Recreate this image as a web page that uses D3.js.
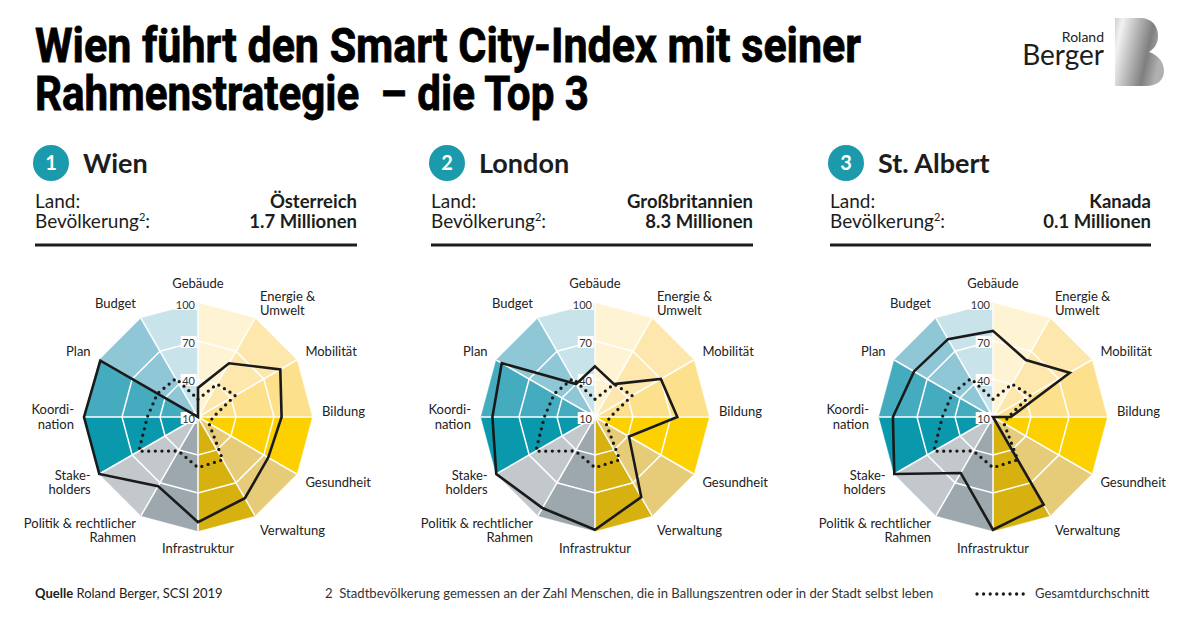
<!DOCTYPE html>
<html><head><meta charset="utf-8">
<script src="https://cdn.jsdelivr.net/npm/d3@7"></script>
<style>
body{margin:0;background:#fff;}
svg{display:block;font-family:Lato,"Open Sans",sans-serif;}
</style></head><body>
<svg id="c" width="1200" height="624"></svg>
<script>
// ---------- data ----------
const titleLines = ["Wien führt den Smart City-Index mit seiner", "Rahmenstrategie  – die Top 3"];
const categories = ["Gebäude","Energie & Umwelt","Mobilität","Bildung","Gesundheit","Verwaltung","Infrastruktur","Politik & rechtlicher Rahmen","Stakeholders","Koordination","Plan","Budget"];
const labelLines = [["Gebäude"],["Energie &","Umwelt"],["Mobilität"],["Bildung"],["Gesundheit"],["Verwaltung"],["Infrastruktur"],["Politik & rechtlicher","Rahmen"],["Stake-","holders"],["Koordi-","nation"],["Plan"],["Budget"]];
const ringTicks = [10, 40, 70, 100];
const ranks = ["1","2","3"];
const cities = ["Wien","London","St. Albert"];
const countries = ["Österreich","Großbritannien","Kanada"];
const populations = ["1.7 Millionen","8.3 Millionen","0.1 Millionen"];
const wienValues     = [33, 59, 85, 76, 74, 84, 93, 73, 100, 100, 99, 10];
const londonValues   = [50, 40, 70, 75, 41, 83, 99, 93, 100, 91, 95, 40];
const stAlbertValues = [78, 62, 80, 24, 10, 90, 99, 61, 100, 89, 82, 81];
const averageValues  = [24, 40, 44, 22, 20, 49, 50, 41, 64, 50, 47, 45];
const sectorColors = ["#fef3d3","#fde7ad","#fde08c","#fdd000","#e6cc78","#d7b10f","#9ca7ae","#c3c8cd","#0a98ad","#45acc0","#8fc7d6","#c8e3ea"];

// ---------- layout ----------
const svg = d3.select("#c");
const ink = "#1d1d1b";
const colX = [35, 431, 830];
const colR = [357, 753, 1151];
const centersX = [198, 595, 993];
const cy = 417, R = 114;
const seriesList = [wienValues, londonValues, stAlbertValues];

// title (one text element, two lines)
const tf = "Roboto,'Liberation Sans',sans-serif";
const title = svg.append("text").attr("font-family",tf).attr("font-weight",700)
  .attr("font-size",48).attr("fill","#000").attr("stroke","#000").attr("stroke-width",0.8)
  .style("white-space","pre");
title.append("tspan").attr("x",35).attr("y",62).attr("textLength",826).attr("lengthAdjust","spacingAndGlyphs").text(titleLines[0]);
title.append("tspan").attr("x",35).attr("y",110).attr("textLength",554).attr("lengthAdjust","spacingAndGlyphs").text(titleLines[1]);

// logo
const defs = svg.append("defs");
const lg = defs.append("linearGradient").attr("id","silver").attr("x1",0).attr("x2",1).attr("y1",0).attr("y2",0.3);
[[0,"#cfcfcf"],[0.15,"#f2f2f2"],[0.45,"#b8b8b8"],[0.75,"#7f7f7f"],[1,"#b0b0b0"]].forEach(s=>lg.append("stop").attr("offset",s[0]).attr("stop-color",s[1]));
svg.append("path").attr("fill","url(#silver)")
  .attr("d","M1115,18 L1140,18 C1152,18 1158,26 1158,36 C1158,44 1154,49 1149,52 C1158,55 1164,62 1164,71 C1164,80 1157,86 1146,86 L1115,86 Z");
const logo = svg.append("text").attr("text-anchor","end").attr("fill",ink);
logo.append("tspan").attr("x",1104).attr("y",42).attr("font-size",14).text("Roland");
logo.append("tspan").attr("x",1104).attr("y",65).attr("font-size",28).text("Berger");

// headers
cities.forEach((c,i)=>{
  const x0 = colX[i];
  svg.append("circle").attr("cx",x0+16).attr("cy",163).attr("r",18).attr("fill","#1a9aab");
  svg.append("text").attr("x",x0+16).attr("y",170).attr("text-anchor","middle").attr("fill","#fff")
    .attr("font-size",20).attr("font-weight",700).text(ranks[i]);
  svg.append("text").attr("x",x0+48).attr("y",173).attr("font-size",27).attr("font-weight",700).attr("fill",ink).text(c);
  const lt = svg.append("text").attr("font-size",19).attr("fill",ink);
  lt.append("tspan").attr("x",x0).attr("y",208).text("Land:");
  lt.append("tspan").attr("x",x0).attr("y",228).text("Bevölkerung");
  lt.append("tspan").attr("dy",-7).attr("font-size",11).text("2");
  lt.append("tspan").attr("dy",7).text(":");
  const rt = svg.append("text").attr("text-anchor","end").attr("font-size",18.5).attr("font-weight",700).attr("fill",ink);
  rt.append("tspan").attr("x",colR[i]).attr("y",208).text(countries[i]);
  rt.append("tspan").attr("x",colR[i]).attr("y",228).text(populations[i]);
  svg.append("line").attr("x1",x0).attr("x2",colR[i]).attr("y1",245).attr("y2",245).attr("stroke",ink).attr("stroke-width",3);
});

// radars
const n = categories.length;
const angle = i => i * 2 * Math.PI / n;
const rScale = d3.scaleLinear().domain([10,100]).range([0,R]);
const radial = d3.lineRadial().angle((d,i)=>angle(i)).radius(d=>rScale(d)).curve(d3.curveLinearClosed);

seriesList.forEach((vals,ci)=>{
  const g = svg.append("g").attr("transform",`translate(${centersX[ci]},${cy})`);
  categories.forEach((c,i)=>{
    const p1 = d3.pointRadial(angle(i), rScale(100));
    const p2 = d3.pointRadial(angle(i+1), rScale(100));
    g.append("path").attr("d",`M0,0L${p1[0]},${p1[1]}L${p2[0]},${p2[1]}Z`).attr("fill",sectorColors[i]).attr("stroke",sectorColors[i]).attr("stroke-width",0.5);
  });
  ringTicks.filter(t=>t>10 && t<100).forEach(t=>{
    g.append("path").attr("d",radial(categories.map(()=>t))).attr("fill","none").attr("stroke","#fff").attr("stroke-width",1.5);
  });
  categories.forEach((c,i)=>{
    const p = d3.pointRadial(angle(i), rScale(100));
    g.append("line").attr("x1",0).attr("y1",0).attr("x2",p[0]).attr("y2",p[1]).attr("stroke","#fff").attr("stroke-width",1.5);
  });
  ringTicks.forEach(t=>{
    const y = -rScale(t) + 1;
    const tx = g.append("text").attr("x",-3).attr("y",y).attr("text-anchor","end").attr("dominant-baseline","central")
      .attr("font-size",11).attr("fill","#333").text(t);
    const bb = tx.node().getBBox();
    g.insert("rect", () => tx.node()).attr("x",bb.x-1.5).attr("y",bb.y+0.5).attr("width",bb.width+2.5).attr("height",bb.height-1).attr("fill","#fff");
  });
  g.append("path").attr("d",radial(averageValues)).attr("fill","none").attr("stroke","#1a1a1a")
    .attr("stroke-width",3.3).attr("stroke-linecap","round").attr("stroke-dasharray","0 6.6");
  g.append("path").attr("d",radial(vals)).attr("fill","none").attr("stroke","#1a1a1a")
    .attr("stroke-width",2.6).attr("stroke-linejoin","miter");
  labelLines.forEach((lines,i)=>{
    const a = angle(i);
    const deg = i*360/n;
    const x = 124*Math.sin(a);
    const y = -131*Math.cos(a) - (deg===90 ? 6 : 0) - (deg===0 ? 3 : 0);
    const anchor = (deg===0||deg===180) ? "middle" : (deg<180 ? "start" : "end");
    const lh = 14.5;
    const t = g.append("text").attr("text-anchor",anchor).attr("font-size",13).attr("fill","#222");
    lines.forEach((l,k)=>{
      t.append("tspan").attr("x",x).attr("y", y + (k - (lines.length-1)/2)*lh + 4.5).text(l);
    });
  });
});

// footer
const f1 = svg.append("text").attr("x",35).attr("y",598).attr("font-size",13).attr("fill",ink);
f1.append("tspan").attr("font-weight",700).text("Quelle");
f1.append("tspan").text(" Roland Berger, SCSI 2019");
svg.append("text").attr("x",325).attr("y",598).attr("font-size",13.1).attr("fill","#333").style("white-space","pre")
  .text("2  Stadtbevölkerung gemessen an der Zahl Menschen, die in Ballungszentren oder in der Stadt selbst leben");
svg.append("line").attr("x1",977).attr("x2",1024).attr("y1",594).attr("y2",594).attr("stroke","#1a1a1a")
  .attr("stroke-width",3.3).attr("stroke-linecap","round").attr("stroke-dasharray","0 6.6");
svg.append("text").attr("x",1035).attr("y",598).attr("font-size",13).attr("fill","#333").text("Gesamtdurchschnitt");
</script>
</body></html>
